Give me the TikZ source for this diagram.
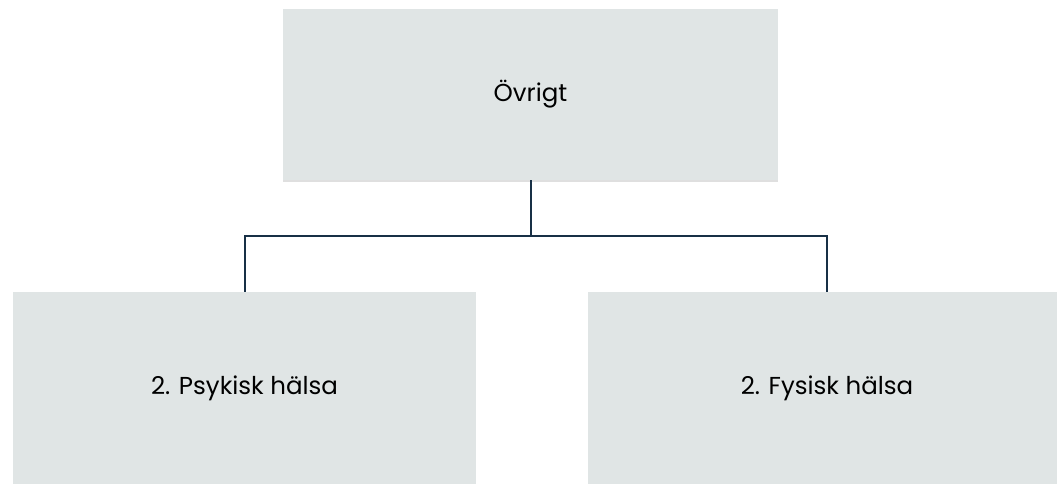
\documentclass[tikz,border=0pt]{standalone}
\usepackage{fontspec}
\setmainfont{Poppins}
\usetikzlibrary{shadows}

\definecolor{boxgray}{RGB}{224,229,229}
\definecolor{linknavy}{RGB}{24,48,70}

\tikzset{
  orgbox/.style={fill=boxgray, draw=none, align=center, font=\fontsize{24.5}{28}\selectfont,
    drop shadow={shadow xshift=0pt, shadow yshift=-2pt, opacity=0.25, fill=black!50}},
  link/.style={draw=linknavy, line width=2pt}
}

\begin{document}
\begin{tikzpicture}[x=1pt, y=1pt]
% Page frame, one unit per pixel
\path[use as bounding box, clip] (0,0) rectangle (1057,-484);

% Draw the boxes
\node[orgbox, minimum width=495pt, minimum height=171pt] (ovrigt) at (530.5,-94.5) {Övrigt};
\node[orgbox, minimum width=463pt, minimum height=192pt, anchor=north] (psyk) at (244.5,-292) {2. Psykisk hälsa};
\node[orgbox, minimum width=478pt, minimum height=192pt, anchor=north] (fys) at (827,-292) {2. Fysisk hälsa};

% Draw the connectors
\draw[link] (ovrigt.south) -- ++(0,-56) coordinate (hub) -| (psyk.north);
\draw[link] (hub) -| (fys.north);
\end{tikzpicture}
\end{document}
